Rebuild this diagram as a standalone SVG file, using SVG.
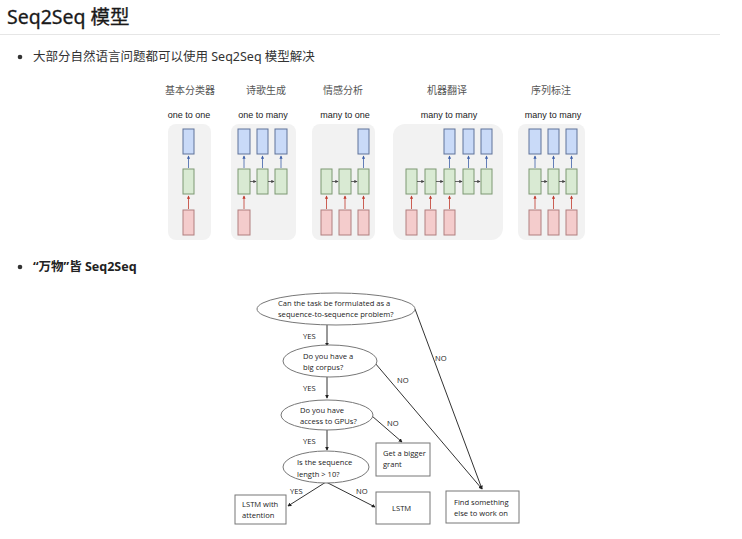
<svg xmlns="http://www.w3.org/2000/svg" width="742" height="539" viewBox="0 0 742 539">
<defs>
<style>
.h{font-family:"Noto Sans","Noto Sans CJK SC",sans-serif;font-size:19.5px;fill:#1a1a1a;stroke:#1a1a1a;stroke-width:0.3;}
.p{font-family:"Noto Sans","Noto Sans CJK SC",sans-serif;font-size:12.5px;fill:#333;}
.pb{font-family:"Noto Sans","Noto Sans CJK SC",sans-serif;font-size:12.5px;fill:#222;font-weight:bold;}
.zh{font-family:"Noto Sans CJK SC",sans-serif;font-size:10px;fill:#555;text-anchor:middle;}
.lb{font-family:"Liberation Sans",Arial,sans-serif;font-size:9px;fill:#222;text-anchor:middle;}
.pan{fill:#f2f2f2;}
.bl{fill:#c9daf8;stroke:#5f7299;stroke-width:1;}
.gr{fill:#d9ead3;stroke:#7d9873;stroke-width:1;}
.rd{fill:#f4cccc;stroke:#b07f7f;stroke-width:1;}
.ar{stroke:#c0392b;stroke-width:0.8;marker-end:url(#mr);}
.ab{stroke:#3d5fa8;stroke-width:0.8;marker-end:url(#mb);}
.ag{stroke:#444;stroke-width:0.8;marker-end:url(#mg);}
.fc{font-family:"Open Sans","Liberation Sans",sans-serif;font-size:7.6px;fill:#222;}
.fn{fill:#fff;stroke:#777;stroke-width:1;}
.fl{stroke:#333;stroke-width:1;fill:none;marker-end:url(#mf);}
</style>
<marker id="mr" viewBox="0 0 6 6" refX="5" refY="3" markerWidth="4" markerHeight="4" orient="auto"><path d="M0,0L6,3L0,6z" fill="#c0392b"/></marker>
<marker id="mb" viewBox="0 0 6 6" refX="5" refY="3" markerWidth="4" markerHeight="4" orient="auto"><path d="M0,0L6,3L0,6z" fill="#3d5fa8"/></marker>
<marker id="mg" viewBox="0 0 6 6" refX="5" refY="3" markerWidth="4" markerHeight="4" orient="auto"><path d="M0,0L6,3L0,6z" fill="#444"/></marker>
<marker id="mf" viewBox="0 0 6 6" refX="5" refY="3" markerWidth="4" markerHeight="4" orient="auto"><path d="M0,0L6,3L0,6z" fill="#222"/></marker>
</defs>
<rect width="742" height="539" fill="#fff"/>
<g id="header">
<text class="h" x="7" y="24">Seq2Seq 模型</text>
<line x1="0" y1="34.5" x2="720" y2="34.5" stroke="#e6e6e6" stroke-width="1"/>
<circle cx="20" cy="57" r="2.3" fill="#333"/>
<text class="p" x="33" y="61">大部分自然语言问题都可以使用 Seq2Seq 模型解决</text>
<circle cx="20" cy="267" r="2.3" fill="#333"/>
<text class="pb" x="33" y="271">“万物”皆 Seq2Seq</text>
</g>
<g id="rnn-titles">
<text class="zh" x="190" y="94">基本分类器</text>
<text class="zh" x="266" y="94">诗歌生成</text>
<text class="zh" x="343" y="94">情感分析</text>
<text class="zh" x="447" y="94">机器翻译</text>
<text class="zh" x="551" y="94">序列标注</text>
<text class="lb" x="189" y="118">one to one</text>
<text class="lb" x="263" y="118">one to many</text>
<text class="lb" x="345" y="118">many to one</text>
<text class="lb" x="449" y="118">many to many</text>
<text class="lb" x="553" y="118">many to many</text>
</g>
<g id="panel-one-to-one">
<rect class="pan" x="168" y="124" width="43" height="116" rx="8"/>
<rect class="bl" x="183" y="129" width="11" height="25"/>
<rect class="gr" x="183" y="169" width="11" height="25"/>
<rect class="rd" x="183" y="210" width="11" height="25"/>
<line class="ab" x1="188.5" y1="168" x2="188.5" y2="156"/>
<line class="ar" x1="188.5" y1="209" x2="188.5" y2="196"/>
</g>
<g id="panel-one-to-many">
<rect class="pan" x="231" y="124" width="65" height="116" rx="8"/>
<rect class="bl" x="238" y="129" width="12" height="25"/>
<rect class="bl" x="257" y="129" width="11" height="25"/>
<rect class="bl" x="275" y="129" width="12" height="25"/>
<rect class="gr" x="238" y="169" width="12" height="25"/>
<rect class="gr" x="257" y="169" width="11" height="25"/>
<rect class="gr" x="275" y="169" width="12" height="25"/>
<rect class="rd" x="238" y="210" width="12" height="25"/>
<line class="ab" x1="244" y1="168" x2="244" y2="156"/>
<line class="ab" x1="262.5" y1="168" x2="262.5" y2="156"/>
<line class="ab" x1="281" y1="168" x2="281" y2="156"/>
<line class="ar" x1="244" y1="209" x2="244" y2="196"/>
<line class="ag" x1="250" y1="181.5" x2="256" y2="181.5"/>
<line class="ag" x1="268" y1="181.5" x2="274" y2="181.5"/>
</g>
<g id="panel-many-to-one">
<rect class="pan" x="312" y="124" width="63" height="116" rx="8"/>
<rect class="bl" x="358" y="129" width="11" height="25"/>
<rect class="gr" x="321" y="169" width="11" height="25"/>
<rect class="gr" x="339" y="169" width="12" height="25"/>
<rect class="gr" x="358" y="169" width="11" height="25"/>
<rect class="rd" x="321" y="210" width="11" height="25"/>
<rect class="rd" x="339" y="210" width="12" height="25"/>
<rect class="rd" x="358" y="210" width="11" height="25"/>
<line class="ab" x1="363.5" y1="168" x2="363.5" y2="156"/>
<line class="ar" x1="326.5" y1="209" x2="326.5" y2="196"/>
<line class="ar" x1="345" y1="209" x2="345" y2="196"/>
<line class="ar" x1="363.5" y1="209" x2="363.5" y2="196"/>
<line class="ag" x1="332" y1="181.5" x2="338" y2="181.5"/>
<line class="ag" x1="351" y1="181.5" x2="357" y2="181.5"/>
</g>
<g id="panel-many-to-many-1">
<rect class="pan" x="393" y="124" width="110" height="116" rx="12"/>
<rect class="bl" x="444" y="129" width="11" height="25"/>
<rect class="bl" x="463" y="129" width="11" height="25"/>
<rect class="bl" x="481" y="129" width="11" height="25"/>
<rect class="gr" x="406" y="169" width="11" height="25"/>
<rect class="gr" x="425" y="169" width="11" height="25"/>
<rect class="gr" x="444" y="169" width="11" height="25"/>
<rect class="gr" x="463" y="169" width="11" height="25"/>
<rect class="gr" x="481" y="169" width="11" height="25"/>
<rect class="rd" x="406" y="210" width="11" height="25"/>
<rect class="rd" x="425" y="210" width="11" height="25"/>
<rect class="rd" x="444" y="210" width="11" height="25"/>
<line class="ab" x1="449.5" y1="168" x2="449.5" y2="156"/>
<line class="ab" x1="468.5" y1="168" x2="468.5" y2="156"/>
<line class="ab" x1="486.5" y1="168" x2="486.5" y2="156"/>
<line class="ar" x1="411.5" y1="209" x2="411.5" y2="196"/>
<line class="ar" x1="430.5" y1="209" x2="430.5" y2="196"/>
<line class="ar" x1="449.5" y1="209" x2="449.5" y2="196"/>
<line class="ag" x1="417" y1="181.5" x2="424" y2="181.5"/>
<line class="ag" x1="436" y1="181.5" x2="443" y2="181.5"/>
<line class="ag" x1="455" y1="181.5" x2="462" y2="181.5"/>
<line class="ag" x1="474" y1="181.5" x2="480" y2="181.5"/>
</g>
<g id="panel-many-to-many-2">
<rect class="pan" x="518" y="124" width="67" height="116" rx="8"/>
<rect class="bl" x="529" y="129" width="12" height="25"/>
<rect class="bl" x="548" y="129" width="11" height="25"/>
<rect class="bl" x="566" y="129" width="11" height="25"/>
<rect class="gr" x="529" y="169" width="12" height="25"/>
<rect class="gr" x="548" y="169" width="11" height="25"/>
<rect class="gr" x="566" y="169" width="11" height="25"/>
<rect class="rd" x="529" y="210" width="12" height="25"/>
<rect class="rd" x="548" y="210" width="11" height="25"/>
<rect class="rd" x="566" y="210" width="11" height="25"/>
<line class="ab" x1="535" y1="168" x2="535" y2="156"/>
<line class="ab" x1="553.5" y1="168" x2="553.5" y2="156"/>
<line class="ab" x1="571.5" y1="168" x2="571.5" y2="156"/>
<line class="ar" x1="535" y1="209" x2="535" y2="196"/>
<line class="ar" x1="553.5" y1="209" x2="553.5" y2="196"/>
<line class="ar" x1="571.5" y1="209" x2="571.5" y2="196"/>
<line class="ag" x1="541" y1="181.5" x2="547" y2="181.5"/>
<line class="ag" x1="559" y1="181.5" x2="565" y2="181.5"/>
</g>
<g id="connectors">
<line class="fl" x1="327" y1="325" x2="327" y2="346"/>
<line class="fl" x1="327" y1="377" x2="327" y2="398"/>
<line class="fl" x1="327" y1="430" x2="327" y2="450"/>
<line class="fl" x1="326" y1="482" x2="288" y2="506"/>
<line class="fl" x1="326" y1="482" x2="375" y2="507"/>
<line class="fl" x1="372" y1="416" x2="402" y2="442"/>
<line class="fl" x1="375" y1="363" x2="482" y2="489"/>
<line class="fl" x1="415" y1="309" x2="482" y2="489"/>
<text class="fc" x="303" y="339">YES</text>
<text class="fc" x="303" y="391">YES</text>
<text class="fc" x="303" y="444">YES</text>
<text class="fc" x="290" y="494">YES</text>
<text class="fc" x="356" y="494">NO</text>
<text class="fc" x="387" y="426">NO</text>
<text class="fc" x="397" y="383">NO</text>
<text class="fc" x="435" y="361">NO</text>
</g>
<g id="q1">
<ellipse class="fn" cx="336" cy="309" rx="79" ry="16"/>
<text class="fc" x="278" y="306">Can the task be formulated as a</text>
<text class="fc" x="278" y="317">sequence-to-sequence problem?</text>
</g>
<g id="q2">
<ellipse class="fn" cx="330" cy="361" rx="47" ry="16"/>
<text class="fc" x="303" y="359">Do you have a</text>
<text class="fc" x="303" y="370">big corpus?</text>
</g>
<g id="q3">
<ellipse class="fn" cx="327" cy="415" rx="46" ry="15"/>
<text class="fc" x="300" y="413">Do you have</text>
<text class="fc" x="300" y="424">access to GPUs?</text>
</g>
<g id="q4">
<ellipse class="fn" cx="326" cy="467" rx="43" ry="16"/>
<text class="fc" x="297" y="465">Is the sequence</text>
<text class="fc" x="297" y="477">length &gt; 10?</text>
</g>
<g id="grant">
<rect class="fn" x="376" y="443" width="54" height="33"/>
<text class="fc" x="383" y="456">Get a bigger</text>
<text class="fc" x="383" y="467">grant</text>
</g>
<g id="lstm-att">
<rect class="fn" x="235" y="495" width="51" height="29"/>
<text class="fc" x="242" y="507">LSTM with</text>
<text class="fc" x="242" y="518">attention</text>
</g>
<g id="lstm">
<rect class="fn" x="376" y="492" width="54" height="32"/>
<text class="fc" x="392" y="511">LSTM</text>
</g>
<g id="other">
<rect class="fn" x="446" y="491" width="73" height="32"/>
<text class="fc" x="454" y="505">Find something</text>
<text class="fc" x="454" y="516">else to work on</text>
</g>
</svg>
